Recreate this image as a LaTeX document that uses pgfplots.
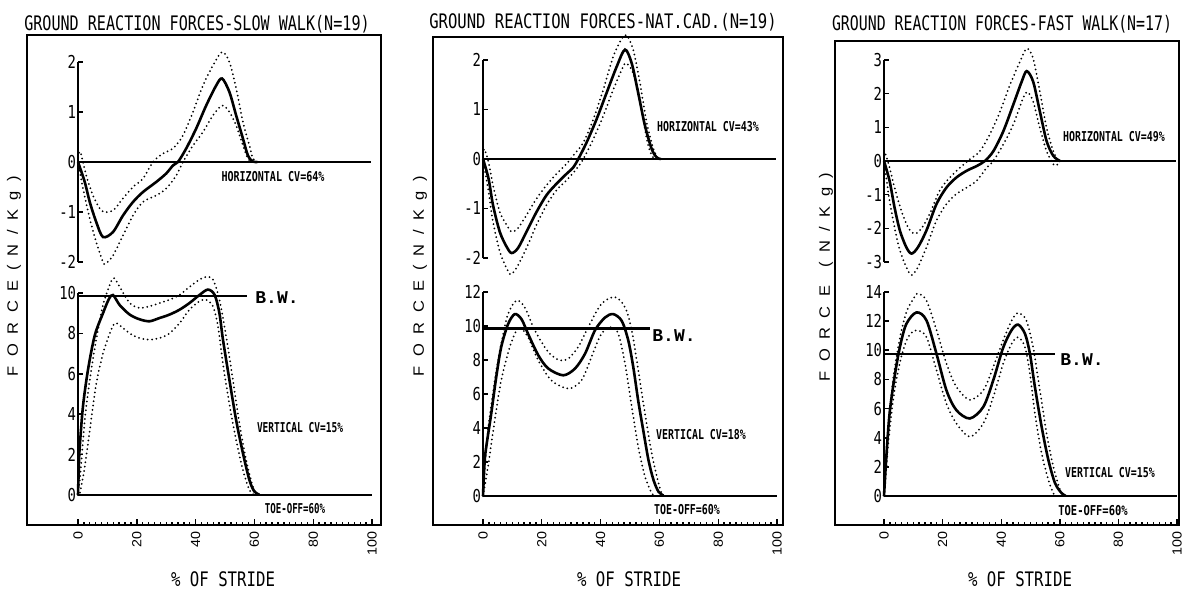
\documentclass[border=0pt]{standalone}
\usepackage{graphicx}
\usepackage{pgfplots}
\pgfplotsset{compat=1.18}
\usepackage{fontspec}
\setmainfont{DejaVu Sans Mono}
\newfontfamily\plt{DejaVu Sans Mono}
\newfontfamily\lsans{Liberation Sans}
\newfontfamily\lmono{Liberation Mono}
\newcommand\ttl[2][0.755]{{\plt\fontsize{10}{12}\selectfont\scalebox{#1}[1]{#2}}}
\newcommand\ann[2][0.72]{{\plt\bfseries\fontsize{6.8}{8}\selectfont\scalebox{#1}[1]{#2}}}
\newcommand\ytl[1]{{\plt\fontsize{8.9}{10}\selectfont\scalebox{0.78}[1]{#1}}}
\newcommand\xtl[1]{{\lsans\fontsize{6.6}{7}\selectfont\scalebox{1.08}[1]{#1}}}
\newcommand\bw{{\lmono\bfseries\fontsize{9}{10}\selectfont B.W.}}
\newcommand\ls{\hspace{4.3pt}}
\newcommand\ylab[1][0pt]{{\lsans\fontsize{7.5}{8}\selectfont\scalebox{1.1}[1]{F\ls O\ls R\ls C\ls E\ls\hspace{#1}(\ls N\ls /\ls K\ls g\ls )}}}

\pgfplotsset{
 frame/.style={scale only axis, anchor=south west, axis line style={line width=1.1pt},
   ytick=\empty, xtick={0,20,...,100}, minor xtick={2,4,...,98}, xtick pos=left,
   tick align=inside, major tick length=3pt, minor tick length=1.5pt,
   tick style={black, line width=0.7pt},
   xticklabels={\xtl{0},\xtl{20},\xtl{40},\xtl{60},\xtl{80},\xtl{100}},
   xticklabel style={rotate=90, anchor=east, inner sep=0pt}, xticklabel shift=3pt,
   ymin=0, ymax=1},
 inner/.style={scale only axis, anchor=south west, axis x line=none, axis y line=left,
   axis line style={-, line width=1pt}, xmin=0, xmax=100, clip=false, xtick=\empty,
   tick align=inside, major tick length=2.5pt, ytick style={black, line width=0.8pt},
   yticklabel style={inner sep=0.8pt}},
 mean/.style={black, line width=1.3pt, smooth, tension=0.5, no marks},
 sd/.style={black, line width=1pt, line cap=round, dash pattern=on 0pt off 2.2pt, smooth, tension=0.5, no marks},
 ref/.style={black, line width=1.1pt, no marks},
}

\begin{document}
\begin{tikzpicture}
\useasboundingbox (0,0) rectangle (591.5pt,295.5pt);

%================ PANEL 1 =================
\begin{axis}[frame, at={(13.5pt,33pt)}, width=177pt, height=245pt, xmin=-17.35, xmax=103.06]
\end{axis}
\begin{axis}[inner, at={(39pt,164.5pt)}, width=147pt, height=100pt, ymin=-2, ymax=2,
  ytick={-2,-1,0,1,2}, yticklabels={\ytl{-2},\ytl{-1},\ytl{0},\ytl{1},\ytl{2}}]
\addplot[ref] coordinates {(0,0) (99.5,0)};
\addplot[sd] coordinates {(0,0.1) (0.8,0.2) (2.8,-0.27) (5.1,-0.67) (7.4,-0.93) (9.1,-1.0) (11.9,-0.97) (15.3,-0.73) (18.7,-0.5) (22.1,-0.33) (25.5,0) (28.9,0.17) (32.3,0.27) (35.7,0.53) (39.1,1.0) (42.5,1.53) (45.9,1.93) (49.0,2.2) (51.5,2.0) (53.8,1.47) (56.1,0.8) (58.3,0.33) (59.5,0.07) (61,0)};
\addplot[sd] coordinates {(0,0) (1.7,-0.53) (4.0,-1.13) (6.2,-1.6) (8.5,-2.0) (9.5,-2.03) (11.9,-1.87) (15.3,-1.47) (18.7,-1.07) (22.1,-0.8) (26.6,-0.67) (30.0,-0.53) (33.4,-0.27) (35.7,0) (39.1,0.33) (42.5,0.6) (45.9,0.93) (49.0,1.13) (51.5,1.0) (53.8,0.73) (56.1,0.33) (57.8,0.07) (59,0)};
\addplot[mean] coordinates {(0,0) (2.3,-0.4) (4.0,-0.8) (6.2,-1.2) (8.5,-1.5) (11.9,-1.4) (15.3,-1.07) (18.7,-0.8) (22.1,-0.6) (26.6,-0.4) (30.0,-0.23) (32.3,-0.07) (34.0,0) (36.8,0.27) (40.2,0.67) (43.6,1.13) (47.0,1.53) (49.0,1.67) (51.5,1.4) (53.8,0.93) (56.1,0.47) (57.8,0.13) (59.5,0.01) (61,0)};
\end{axis}
\begin{axis}[inner, at={(39pt,48pt)}, width=147pt, height=101pt, ymin=0, ymax=10,
  ytick={0,2,...,10}, yticklabels={\ytl{0},\ytl{2},\ytl{4},\ytl{6},\ytl{8},\ytl{10}}]
\addplot[ref] coordinates {(0,0) (100,0)};
\addplot[ref] coordinates {(0,9.85) (57.6,9.85)};
\addplot[sd] coordinates {(0,0.3) (0.6,0.74) (2.3,3.7) (4.0,5.7) (6.2,7.7) (8.5,9.4) (10.8,10.4) (12.2,10.74) (14.2,10.3) (17.6,9.5) (20.9,9.26) (24.3,9.34) (27.7,9.5) (31.1,9.67) (34.5,9.9) (37.9,10.3) (41.3,10.66) (43.6,10.8) (45.9,10.66) (48.1,9.67) (50.4,7.85) (52.7,5.7) (54.9,3.55) (57.2,1.74) (59.5,0.41) (61,0)};
\addplot[sd] coordinates {(0,0) (0.6,0.08) (2.3,1.4) (4.0,3.2) (6.2,5.5) (8.5,7.0) (10.8,8.0) (12.5,8.5) (14.2,8.4) (17.6,8.0) (20.9,7.77) (24.3,7.69) (27.7,7.77) (31.1,8.0) (34.5,8.5) (37.9,9.17) (41.3,9.59) (43.6,9.67) (45.9,9.34) (47.6,8.35) (49.3,6.5) (51.5,4.5) (53.8,2.7) (56.1,1.24) (58.3,0.25) (60,0)};
\addplot[mean] coordinates {(0,0) (0.3,1.5) (0.6,2.4) (1.7,4.4) (3.4,6.2) (5.7,7.9) (8.5,9.0) (10.5,9.7) (11.9,9.9) (14.2,9.4) (17.6,8.93) (20.9,8.7) (24.3,8.6) (27.7,8.76) (31.1,8.93) (34.5,9.17) (37.9,9.5) (41.3,9.9) (44.2,10.17) (46.5,9.9) (48.1,9.0) (49.3,7.7) (51.5,5.7) (53.8,3.7) (56.1,2.07) (58.3,0.74) (60.0,0.17) (61.7,0.02)};
\end{axis}

%================ PANEL 2 =================
\begin{axis}[frame, at={(216.5pt,33pt)}, width=175pt, height=244pt, xmin=-17.0, xmax=102.04]
\end{axis}
\begin{axis}[inner, at={(241.5pt,166.5pt)}, width=147pt, height=99pt, ymin=-2, ymax=2,
  ytick={-2,-1,0,1,2}, yticklabels={\ytl{-2},\ytl{-1},\ytl{0},\ytl{1},\ytl{2}}]
\addplot[ref] coordinates {(0,0) (99.5,0)};
\addplot[sd] coordinates {(0,0.1) (0.5,0.2) (1.9,-0.07) (3.4,-0.53) (5.7,-1.07) (8.0,-1.33) (9.7,-1.47) (11.9,-1.4) (14.8,-1.13) (18.2,-0.8) (21.6,-0.53) (25.0,-0.3) (28.4,-0.1) (30.7,0.07) (34.1,0.33) (37.5,0.8) (40.9,1.4) (44.3,2.07) (47.2,2.43) (48.9,2.5) (51.1,2.2) (53.4,1.53) (55.7,0.73) (58.0,0.2) (59.7,0)};
\addplot[sd] coordinates {(0,0) (1.9,-0.67) (3.4,-1.27) (5.7,-1.87) (8.0,-2.2) (9.4,-2.33) (11.4,-2.2) (14.8,-1.8) (18.2,-1.33) (21.6,-0.93) (25.0,-0.63) (28.4,-0.43) (31.8,-0.2) (34.1,0) (37.5,0.4) (40.9,0.87) (44.3,1.4) (47.7,1.87) (48.9,1.93) (51.1,1.73) (53.4,1.2) (55.7,0.4) (57.4,0.07) (58.5,0)};
\addplot[mean] coordinates {(0,0) (1.9,-0.4) (3.4,-0.93) (5.7,-1.47) (8.0,-1.77) (9.7,-1.9) (11.9,-1.8) (14.8,-1.47) (18.2,-1.07) (21.6,-0.73) (25.0,-0.5) (28.4,-0.3) (30.7,-0.17) (32.4,0) (35.2,0.33) (38.6,0.8) (42.0,1.33) (45.5,1.87) (48.3,2.21) (50.6,1.93) (52.8,1.33) (55.1,0.67) (57.4,0.2) (59.1,0.03) (60.5,0)};
\end{axis}
\begin{axis}[inner, at={(241.5pt,47.5pt)}, width=147pt, height=102pt, ymin=0, ymax=12,
  ytick={0,2,...,12}, yticklabels={\ytl{0},\ytl{2},\ytl{4},\ytl{6},\ytl{8},\ytl{10},\ytl{12}}]
\addplot[ref] coordinates {(0,0) (100,0)};
\addplot[ref] coordinates {(0,9.85) (56.8,9.85)};
\addplot[sd] coordinates {(0,0.3) (0.3,0.94) (1.7,3.87) (4.0,6.8) (6.2,8.96) (8.5,10.7) (11.4,11.5) (14.2,11.1) (17.6,9.75) (22.2,8.47) (26.1,7.98) (29.0,8.08) (32.4,8.77) (35.8,9.94) (40.3,11.3) (44.9,11.7) (48.3,11.1) (50.6,9.75) (52.8,7.4) (55.1,4.85) (57.4,2.5) (59.7,0.74) (61,0.05)};
\addplot[sd] coordinates {(0,0) (1.7,1.72) (4.0,4.46) (6.2,6.8) (9.1,8.77) (11.4,9.75) (12.5,9.94) (15.3,9.35) (18.8,7.98) (23.3,6.8) (29.0,6.32) (33.5,6.8) (36.9,8.18) (40.3,9.55) (43.8,9.94) (46.0,9.55) (48.3,7.8) (50.6,5.24) (52.8,2.9) (55.1,1.14) (57.4,0.16) (58.5,0)};
\addplot[mean] coordinates {(0,0) (0.3,1.2) (0.8,2.5) (2.8,4.85) (4.5,7.0) (6.2,8.77) (8.5,10.1) (10.8,10.7) (13.1,10.4) (15.3,9.55) (18.8,8.28) (22.2,7.5) (27.3,7.1) (31.3,7.5) (34.7,8.37) (38.1,9.75) (41.5,10.5) (44.3,10.7) (47.2,10.3) (49.4,9.16) (51.1,7.6) (52.8,5.6) (54.5,3.87) (56.3,2.1) (58.0,0.94) (59.7,0.25) (61.4,0.03)};
\end{axis}

%================ PANEL 3 =================
\begin{axis}[frame, at={(417.5pt,33pt)}, width=172pt, height=242pt, xmin=-16.72, xmax=100.68]
\end{axis}
\begin{axis}[inner, at={(442pt,164.5pt)}, width=146.5pt, height=101pt, ymin=-3, ymax=3,
  ytick={-3,...,3}, yticklabels={\ytl{-3},\ytl{-2},\ytl{-1},\ytl{0},\ytl{1},\ytl{2},\ytl{3}}]
\addplot[ref] coordinates {(0,0) (99.5,0)};
\addplot[sd] coordinates {(0,0.1) (0.5,0.2) (1.9,-0.2) (3.6,-0.79) (5.9,-1.47) (8.2,-1.97) (10.5,-2.16) (12.8,-2.0) (15.6,-1.57) (19.0,-0.88) (22.5,-0.49) (25.9,-0.2) (29.3,0.05) (32.7,0.29) (36.1,0.79) (39.6,1.47) (43.0,2.26) (46.4,2.95) (48.7,3.34) (50.9,3.05) (53.2,2.06) (55.5,0.98) (57.8,0.29) (59.5,0)};
\addplot[sd] coordinates {(0,0) (1.9,-1.18) (3.6,-1.97) (5.4,-2.65) (7.6,-3.15) (9.4,-3.39) (11.6,-3.15) (14.5,-2.56) (17.9,-1.77) (21.3,-1.28) (24.7,-0.98) (28.2,-0.79) (31.6,-0.59) (35.0,-0.2) (37.3,0) (40.7,0.49) (44.1,1.08) (47.5,1.87) (48.9,2.05) (50.9,1.77) (53.2,0.98) (55.5,0.29) (57.8,-0.1) (59,-0.12) (60.1,0)};
\addplot[mean] coordinates {(0,0) (1.9,-0.59) (3.6,-1.38) (5.4,-2.06) (7.6,-2.56) (9.4,-2.75) (11.6,-2.56) (14.5,-2.06) (17.9,-1.28) (21.3,-0.79) (24.7,-0.49) (28.2,-0.29) (31.6,-0.15) (34.4,0) (37.3,0.29) (40.7,0.88) (44.1,1.67) (47.0,2.36) (48.7,2.67) (50.9,2.36) (53.2,1.47) (55.5,0.59) (57.8,0.15) (60.1,0)};
\end{axis}
\begin{axis}[inner, at={(442pt,47.5pt)}, width=146.5pt, height=102pt, ymin=0, ymax=14,
  ytick={0,2,...,14}, yticklabels={\ytl{0},\ytl{2},\ytl{4},\ytl{6},\ytl{8},\ytl{10},\ytl{12},\ytl{14}}]
\addplot[ref] coordinates {(0,0) (100,0)};
\addplot[ref] coordinates {(0,9.75) (58.4,9.75)};
\addplot[sd] coordinates {(0,0.3) (1.4,4.5) (3.1,8.0) (5.4,10.8) (7.6,12.6) (9.9,13.5) (11.6,13.9) (14.5,13.4) (17.9,11.4) (21.3,9.1) (24.7,7.5) (29.3,6.6) (33.9,7.26) (37.3,8.86) (40.7,10.7) (43.6,12.05) (45.8,12.56) (48.6,12.05) (50.9,10.2) (53.2,7.26) (55.5,4.29) (57.8,2.0) (60.1,0.41) (61.2,0.07)};
\addplot[sd] coordinates {(0,0) (0.8,2.0) (1.9,4.5) (3.6,7.26) (5.9,9.54) (8.2,10.9) (11.1,11.37) (14.5,10.9) (17.9,8.63) (21.3,6.35) (24.7,4.98) (29.3,4.06) (33.9,4.98) (37.3,6.8) (40.7,9.1) (43.6,10.46) (45.8,10.9) (48.1,10.23) (49.8,8.4) (51.5,5.66) (53.8,2.92) (56.1,1.1) (57.8,0.18) (59,0)};
\addplot[mean] coordinates {(0,0) (0.8,2.7) (1.9,5.66) (3.6,8.17) (5.4,10.2) (7.6,11.8) (11.1,12.6) (14.5,12.05) (17.9,9.77) (21.3,7.26) (24.7,5.89) (29.3,5.32) (33.9,6.12) (37.3,7.95) (40.7,10.2) (43.6,11.4) (45.8,11.76) (48.1,11.14) (49.8,9.77) (51.5,7.49) (53.8,4.75) (56.1,2.47) (58.4,0.87) (60.7,0.18) (62,0.02)};
\end{axis}

%================ TEXT (pixel coordinates) =================
\begin{scope}[x=0.5pt, y=-0.5pt, shift={(0,295.5pt)}]
\node[anchor=base, inner sep=0pt] at (197,30) {\ttl[0.755]{GROUND REACTION FORCES-SLOW WALK(N=19)}};
\node[anchor=base, inner sep=0pt] at (603,28) {\ttl[0.78]{GROUND REACTION FORCES-NAT.CAD.(N=19)}};
\node[anchor=base, inner sep=0pt] at (1002,31) {\ttl[0.743]{GROUND REACTION FORCES-FAST WALK(N=17)}};
\node[anchor=base, inner sep=0pt] at (223,586) {\ttl[0.785]{\% OF STRIDE}};
\node[anchor=base, inner sep=0pt] at (629,586) {\ttl[0.785]{\% OF STRIDE}};
\node[anchor=base, inner sep=0pt] at (1020,586) {\ttl[0.785]{\% OF STRIDE}};
\node[rotate=90, inner sep=0pt] at (14,276) {\ylab};
\node[rotate=90, inner sep=0pt] at (420,276) {\ylab};
\node[rotate=90, inner sep=0pt] at (826,277) {\ylab[4pt]};
\node[anchor=base, inner sep=0pt] at (273,181) {\ann[0.74]{HORIZONTAL CV=64\%}};
\node[anchor=base, inner sep=0pt] at (708,131) {\ann[0.73]{HORIZONTAL  CV=43\%}};
\node[anchor=base, inner sep=0pt] at (1114,141) {\ann[0.73]{HORIZONTAL  CV=49\%}};
\node[anchor=base, inner sep=0pt] at (300,432) {\ann[0.70]{VERTICAL CV=15\%}};
\node[anchor=base, inner sep=0pt] at (701,439) {\ann[0.73]{VERTICAL  CV=18\%}};
\node[anchor=base, inner sep=0pt] at (1110,477) {\ann[0.73]{VERTICAL  CV=15\%}};
\node[anchor=base, inner sep=0pt] at (295,513) {\ann[0.67]{TOE-OFF=60\%}};
\node[anchor=base, inner sep=0pt] at (687,514) {\ann[0.73]{TOE-OFF=60\%}};
\node[anchor=base, inner sep=0pt] at (1093,515) {\ann[0.77]{TOE-OFF=60\%}};
\node[anchor=base, inner sep=0pt] at (277,303) {\bw};
\node[anchor=base, inner sep=0pt] at (674,341) {\bw};
\node[anchor=base, inner sep=0pt] at (1082,365) {\bw};
\end{scope}
\end{tikzpicture}
\end{document}
